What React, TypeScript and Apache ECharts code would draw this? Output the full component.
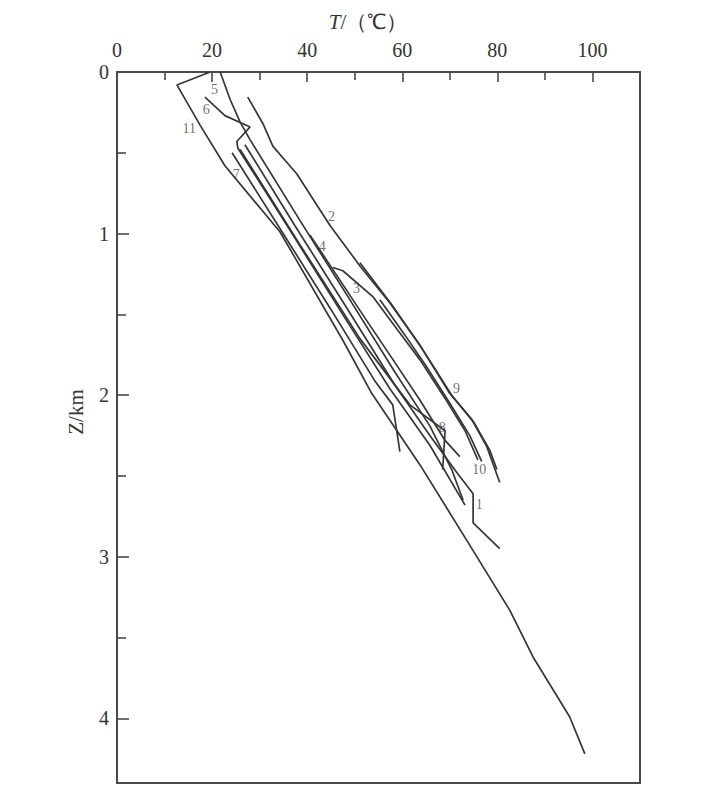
import React, { useEffect, useRef } from "react";
import * as echarts from "echarts";

// Temperature (°C) vs depth Z (km) for each well: [T, Z]
const well1 = [[26.9,0.45],[37.4,0.95],[47.9,1.44],[58.5,1.94],[65.8,2.25],[71.5,2.48],[74.9,2.61],[74.9,2.79],[80.5,2.95]];
const well2 = [[27.5,0.155],[30.7,0.32],[32.8,0.46],[37.8,0.63],[44.8,0.95],[51.1,1.2],[57.4,1.43],[63.7,1.69],[70.0,1.99],[74.6,2.15],[77.8,2.32],[80.5,2.54]];
const well3 = [[45.4,1.21],[47.5,1.23],[53.8,1.39],[59.1,1.6],[63.7,1.78],[69.0,2.02],[73.2,2.22],[75.9,2.4]];
const well4 = [[40.6,1.01],[45.8,1.24],[52.1,1.52],[58.5,1.8],[63.7,2.03],[69.0,2.28],[72.1,2.38]];
const well5 = [[21.7,0],[23.8,0.17],[25.9,0.31],[28.0,0.42],[38.5,0.92],[49.0,1.41],[58.5,1.86],[65.8,2.19],[70.4,2.46],[72.8,2.65]];
const well6 = [[18.5,0.155],[22.7,0.27],[28.0,0.34],[25.2,0.43],[25.4,0.47],[36.4,0.98],[47.9,1.52],[57.4,1.96],[65.8,2.31],[73.2,2.68]];
const well7 = [[24.2,0.5],[34.3,0.97],[44.8,1.46],[54.2,1.91],[58.0,2.06],[59.5,2.35]];
const well8 = [[25.9,0.48],[38.5,1.07],[51.1,1.65],[61.6,2.06],[69.0,2.22],[68.5,2.46]];
const well9 = [[51.1,1.18],[57.8,1.44],[64.1,1.71],[70.4,2.0],[75.1,2.17],[78.4,2.34],[79.9,2.46]];
const well10 = [[55.3,1.41],[60.6,1.63],[64.8,1.81],[70.0,2.05],[74.2,2.25],[76.7,2.41]];
const well11 = [[19.6,0],[12.6,0.08],[17.5,0.33],[22.7,0.58],[34.3,0.99],[47.5,1.66],[53.6,1.99],[63.7,2.43],[73.6,2.9],[82.6,3.33],[87.5,3.62],[95.2,3.99],[98.4,4.22]];

const wells = [well1, well2, well3, well4, well5, well6, well7, well8, well9, well10, well11];
const wellNames = ["1","2","3","4","5","6","7","8","9","10","11"];
// label anchor of each curve number: [T, Z]
const labelPositions = [[76.3,2.68],[45.2,0.9],[50.5,1.34],[43.3,1.08],[20.6,0.11],[18.9,0.235],[25.2,0.64],[68.5,2.2],[71.5,1.96],[76.3,2.46],[15.3,0.35]];

const xMajorTicks = [0, 20, 40, 60, 80, 100];
const xMinorTicks = [10, 30, 50, 70, 90];
const yMajorTicks = [0, 1, 2, 3, 4];
const yMinorTicks = [0.5, 1.5, 2.5, 3.5];

const FONT = "'Liberation Serif', 'Times New Roman', serif";
const AXIS_COLOR = "#4a4a4a";
const LINE_COLOR = "#363636";

export default function App() {
  const ref = useRef<HTMLDivElement>(null);
  useEffect(() => {
    if (!ref.current) return;
    const chart = echarts.init(ref.current, null, { renderer: "svg" });
    const lineSeries = wells.map((d, i) => ({
      name: wellNames[i],
      type: "line",
      data: d,
      showSymbol: false,
      symbol: "none",
      xAxisIndex: 0,
      yAxisIndex: 0,
      lineStyle: { color: LINE_COLOR, width: 1.7 },
      silent: true,
    }));
    const labelSeries = {
      type: "scatter",
      xAxisIndex: 0,
      yAxisIndex: 0,
      symbolSize: 1,
      silent: true,
      itemStyle: { color: "rgba(0,0,0,0)" },
      data: labelPositions.map((p, i) => ({ value: p, name: wellNames[i] })),
      label: {
        show: true,
        position: [0, 0],
        align: "center",
        verticalAlign: "middle",
        formatter: (p: any) => p.name,
        fontSize: 14,
        fontFamily: FONT,
        color: "#4a4a4a",
      },
    };
    const tickStyle = { color: AXIS_COLOR, width: 1.6 };
    chart.setOption({
      animation: false,
      backgroundColor: "#fff",
      grid: {
        left: 117,
        top: 72,
        width: 523,
        height: 711,
        show: true,
        borderColor: AXIS_COLOR,
        borderWidth: 2,
        backgroundColor: "transparent",
      },
      xAxis: [
        {
          type: "value",
          position: "top",
          min: 0,
          max: 110,
          axisLine: { show: true, lineStyle: { color: AXIS_COLOR, width: 2 } },
          axisTick: { show: true, inside: true, length: 10, customValues: xMajorTicks, lineStyle: tickStyle },
          axisLabel: { show: true, customValues: xMajorTicks, fontSize: 20, fontFamily: FONT, color: "#333", margin: 12 },
          splitLine: { show: false },
        },
        {
          type: "value",
          position: "top",
          min: 0,
          max: 110,
          axisLine: { show: false },
          axisTick: { show: true, inside: true, length: 8, customValues: xMinorTicks, lineStyle: tickStyle },
          axisLabel: { show: false },
          splitLine: { show: false },
        },
      ],
      yAxis: [
        {
          type: "value",
          position: "left",
          inverse: true,
          min: 0,
          max: 4.4,
          axisLine: { show: true, lineStyle: { color: AXIS_COLOR, width: 2 } },
          axisTick: { show: true, inside: true, length: 12, customValues: yMajorTicks, lineStyle: tickStyle },
          axisLabel: { show: true, customValues: yMajorTicks, fontSize: 20, fontFamily: FONT, color: "#333", margin: 8 },
          splitLine: { show: false },
        },
        {
          type: "value",
          position: "left",
          inverse: true,
          min: 0,
          max: 4.4,
          axisLine: { show: false },
          axisTick: { show: true, inside: true, length: 9, customValues: yMinorTicks, lineStyle: tickStyle },
          axisLabel: { show: false },
          splitLine: { show: false },
        },
      ],
      graphic: [
        {
          type: "text",
          x: 368,
          y: 22,
          silent: true,
          style: {
            text: "{i|T}/（℃）",
            rich: { i: { fontStyle: "italic", fontSize: 21, fontFamily: FONT, fill: "#333" } },
            fontSize: 21,
            fontFamily: FONT,
            fill: "#333",
            align: "center",
            verticalAlign: "middle",
          },
        },
        {
          type: "text",
          x: 76,
          y: 412,
          rotation: Math.PI / 2,
          silent: true,
          style: {
            text: "Z/km",
            fontSize: 21,
            fontFamily: FONT,
            fill: "#333",
            align: "center",
            verticalAlign: "middle",
          },
        },
      ],
      series: [...lineSeries, labelSeries],
    });
    return () => chart.dispose();
  }, []);
  return (
    <div
      ref={ref}
      style={{ position: "absolute", left: 0, top: 0, width: 718, height: 796, background: "#fff" }}
    />
  );
}
